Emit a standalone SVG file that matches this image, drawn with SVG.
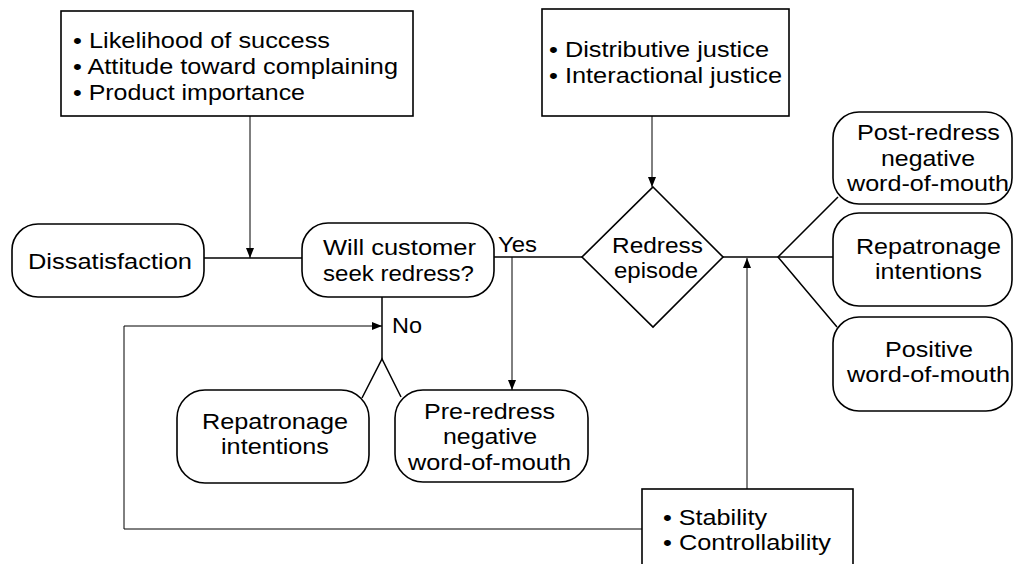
<svg xmlns="http://www.w3.org/2000/svg" width="1014" height="564" viewBox="0 0 1014 564">
<style>
.box{fill:#fff;stroke:#000;stroke-width:1.6}
.ln{fill:none;stroke:#000;stroke-width:1.5}
.thin{fill:none;stroke:#000;stroke-width:1}
text{font-family:"Liberation Sans",Arial,sans-serif;font-size:22px;fill:#000}
</style>
<defs>
<marker id="ah" markerUnits="userSpaceOnUse" markerWidth="10" markerHeight="8" refX="10" refY="4" orient="auto">
<path d="M0,0 L10,4 L0,8 z" fill="#000"/>
</marker>
</defs>
<rect width="1014" height="564" fill="#fff"/>
<g id="connectors">
<line class="ln" x1="204" y1="258" x2="302" y2="258"/>
<line class="thin" x1="250" y1="116" x2="250" y2="258" marker-end="url(#ah)"/>
<line class="ln" x1="494" y1="257" x2="582" y2="257"/>
<line class="thin" x1="512" y1="257" x2="512" y2="390" marker-end="url(#ah)"/>
<line class="thin" x1="652" y1="116" x2="652" y2="187" marker-end="url(#ah)"/>
<line class="ln" x1="382" y1="297" x2="382" y2="359"/>
<polyline class="ln" points="362,398 382,359 401,397"/>
<path class="thin" d="M642,529 H124 V326 H382" marker-end="url(#ah)"/>
<line class="ln" x1="723" y1="257" x2="778" y2="257"/>
<line class="thin" x1="747" y1="489" x2="747" y2="258" marker-end="url(#ah)"/>
<polyline class="ln" points="838,197 778,257 837,327"/>
<line class="ln" x1="778" y1="257" x2="833" y2="257"/>
</g>
<g id="factors1">
<rect class="box" x="61" y="11" width="352" height="105"/>
<text x="73" y="48" textLength="257" lengthAdjust="spacingAndGlyphs">• Likelihood of success</text>
<text x="73" y="74" textLength="325" lengthAdjust="spacingAndGlyphs">• Attitude toward complaining</text>
<text x="73" y="100" textLength="232" lengthAdjust="spacingAndGlyphs">• Product importance</text>
</g>
<g id="justice">
<rect class="box" x="542" y="9" width="247" height="107"/>
<text x="549" y="57" textLength="220" lengthAdjust="spacingAndGlyphs">• Distributive justice</text>
<text x="549" y="83" textLength="233" lengthAdjust="spacingAndGlyphs">• Interactional justice</text>
</g>
<g id="dissatisfaction">
<rect class="box" x="12" y="224" width="192" height="73" rx="26"/>
<text x="28" y="269" textLength="164" lengthAdjust="spacingAndGlyphs">Dissatisfaction</text>
</g>
<g id="seek-redress">
<rect class="box" x="302" y="223" width="192" height="74" rx="26"/>
<text x="323" y="255" textLength="153" lengthAdjust="spacingAndGlyphs">Will customer</text>
<text x="323" y="281" textLength="151" lengthAdjust="spacingAndGlyphs">seek redress?</text>
</g>
<text id="yes" x="498" y="252" textLength="39" lengthAdjust="spacingAndGlyphs">Yes</text>
<text id="no" x="392" y="333" textLength="30" lengthAdjust="spacingAndGlyphs">No</text>
<g id="redress-episode">
<polygon class="box" points="653,187 723,257 653,327 582,257"/>
<text x="612" y="253" textLength="91" lengthAdjust="spacingAndGlyphs">Redress</text>
<text x="614" y="278" textLength="84" lengthAdjust="spacingAndGlyphs">episode</text>
</g>
<g id="repatronage-pre">
<rect class="box" x="177" y="390" width="192" height="93" rx="28"/>
<text x="202" y="429" textLength="146" lengthAdjust="spacingAndGlyphs">Repatronage</text>
<text x="221" y="454" textLength="108" lengthAdjust="spacingAndGlyphs">intentions</text>
</g>
<g id="pre-redress-wom">
<rect class="box" x="395" y="390" width="193" height="92" rx="28"/>
<text x="424" y="419" textLength="131" lengthAdjust="spacingAndGlyphs">Pre-redress</text>
<text x="443" y="444" textLength="94" lengthAdjust="spacingAndGlyphs">negative</text>
<text x="408" y="470" textLength="163" lengthAdjust="spacingAndGlyphs">word-of-mouth</text>
</g>
<g id="post-redress-wom">
<rect class="box" x="833" y="112" width="179" height="92" rx="26"/>
<text x="857" y="140" textLength="143" lengthAdjust="spacingAndGlyphs">Post-redress</text>
<text x="881" y="166" textLength="94" lengthAdjust="spacingAndGlyphs">negative</text>
<text x="847" y="191" textLength="162" lengthAdjust="spacingAndGlyphs">word-of-mouth</text>
</g>
<g id="repatronage-post">
<rect class="box" x="833" y="213" width="179" height="93" rx="26"/>
<text x="856" y="254" textLength="145" lengthAdjust="spacingAndGlyphs">Repatronage</text>
<text x="875" y="279" textLength="107" lengthAdjust="spacingAndGlyphs">intentions</text>
</g>
<g id="positive-wom">
<rect class="box" x="833" y="317" width="179" height="94" rx="26"/>
<text x="885" y="357" textLength="88" lengthAdjust="spacingAndGlyphs">Positive</text>
<text x="847" y="382" textLength="163" lengthAdjust="spacingAndGlyphs">word-of-mouth</text>
</g>
<g id="attributions">
<rect class="box" x="642" y="489" width="211" height="85"/>
<text x="663" y="525" textLength="104" lengthAdjust="spacingAndGlyphs">• Stability</text>
<text x="663" y="550" textLength="168" lengthAdjust="spacingAndGlyphs">• Controllability</text>
</g>
</svg>
